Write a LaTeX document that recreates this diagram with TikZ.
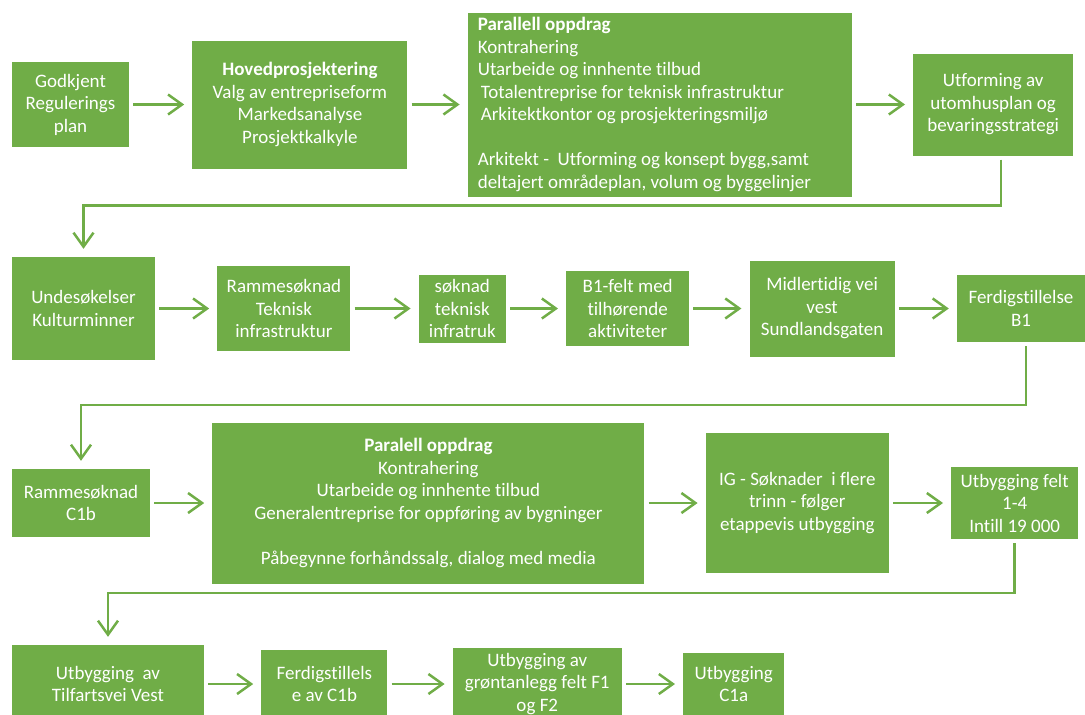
\documentclass[tikz,border=0pt]{standalone}
\usepackage{fontspec}
\setmainfont{Carlito}[Ligatures={NoCommon,NoRequired,NoContextual}]
\usetikzlibrary{positioning, arrows.meta}
\definecolor{stagegreen}{HTML}{70AD47}

\begin{document}
\begin{tikzpicture}[x=1pt, y=-1pt, node distance=61pt,
                    stage/.style={rectangle, fill=stagegreen, text=white, align=center, inner sep=1pt,
                                  font={\fontsize{19}{22.5}\selectfont}},
                    flow/.style={->, draw=stagegreen, line width=2.5pt, shorten <=4pt, shorten >=8pt},
                    >={Straight Barb[length=14pt, width=20pt]}]
  \useasboundingbox (0,0) rectangle (1085,715);
  \clip (0,0) rectangle (1085,715);
  % row 1
  \node[stage, minimum width=117pt, minimum height=85pt] (godkjent) at (70.5,104.5) {Godkjent\\Regulerings\\plan};
  \node[stage, right=63pt of godkjent, minimum width=215pt, minimum height=128pt] (hovedpro)
       {\textbf{Hovedprosjektering}\\Valg av entrepriseform\\Markedsanalyse\\Prosjektkalkyle};
  \node[stage, right=60pt of hovedpro, minimum height=184pt, text width=364pt, inner xsep=10pt, align=flush left] (parallell)
       {\textbf{Parallell oppdrag}\\Kontrahering\\Utarbeide og innhente tilbud\\
        \hspace*{3pt}Totalentreprise for teknisk infrastruktur\\
        \hspace*{3pt}Arkitektkontor og prosjekteringsmiljø\\[22.5pt]
        Arkitekt -\ \ Utforming og konsept bygg,samt\\deltajert områdeplan, volum og byggelinjer};
  \node[stage, right=of parallell, minimum width=160pt, minimum height=102pt] (utforming)
       {Utforming av\\utomhusplan og\\bevaringsstrategi};
  % row 2
  \node[stage, minimum width=143pt, minimum height=103pt] (undersok) at (83.5,308.5) {Undesøkelser\\Kulturminner};
  \node[stage, right=62pt of undersok, minimum width=133pt, minimum height=85pt] (rammeinfra) {Rammesøknad\\Teknisk\\infrastruktur};
  \node[stage, right=68pt of rammeinfra, minimum width=87pt, minimum height=68pt] (soknad) {søknad\\teknisk\\infratruk};
  \node[stage, right=60pt of soknad, minimum width=123pt, minimum height=75pt] (bfelt) {B1-felt med\\tilhørende\\aktiviteter};
  \node[stage, right=60pt of bfelt, minimum width=145pt, minimum height=96pt] (midlvei) {Midlertidig vei\\vest\\Sundlandsgaten};
  \node[stage, right=62pt of midlvei, minimum width=128pt, minimum height=67pt] (ferdigb) {Ferdigstillelse\\B1};
  % row 3
  \node[stage, minimum width=138pt, minimum height=68pt] (rammec) at (81,503) {Rammesøknad\\C1b};
  \node[stage, right=62pt of rammec, minimum width=432pt, minimum height=161pt] (paralell)
       {\textbf{Paralell oppdrag}\\Kontrahering\\Utarbeide og innhente tilbud\\
        Generalentreprise for oppføring av bygninger\\[22.5pt]Påbegynne forhåndssalg, dialog med media};
  \node[stage, right=of paralell, minimum width=183pt, minimum height=140pt] (igsok)
       {IG - Søknader\ \ i flere\\trinn - følger\\etappevis utbygging};
  \node[stage, right=62pt of igsok, minimum width=127pt, minimum height=72pt] (utbfelt) {Utbygging felt\\1-4\\Intill 19 000};
  % row 4
  \node[stage, minimum width=192pt, minimum height=78pt] (tilfart) at (108,684) {Utbygging\ \ av\\Tilfartsvei Vest};
  \node[stage, right=57pt of tilfart, minimum width=126pt, minimum height=68pt] (ferdigc) {Ferdigstillels\\e av C1b};
  \node[stage, right=65pt of ferdigc, minimum width=169pt, minimum height=72pt] (gront) {Utbygging av\\grøntanlegg felt F1\\og F2};
  \node[stage, right=of gront, minimum width=101pt, minimum height=62pt] (utbc) {Utbygging\\C1a};

  \draw[flow] (godkjent) -- (hovedpro);
  \draw[flow] (hovedpro) -- (parallell);
  \draw[flow] (parallell) -- (utforming);
  \draw[flow] ([xshift=8pt]utforming.south) -- ++(0,50) -| (undersok.north);

  \draw[flow] (undersok) -- (rammeinfra);
  \draw[flow] (rammeinfra) -- (soknad);
  \draw[flow] (soknad) -- (bfelt);
  \draw[flow] (bfelt) -- (midlvei);
  \draw[flow] (midlvei) -- (ferdigb);
  \draw[flow] ([xshift=5pt]ferdigb.south) -- ++(0,63) -| (rammec.north);

  \draw[flow] (rammec) -- (paralell);
  \draw[flow] (paralell) -- (igsok);
  \draw[flow] (igsok) -- (utbfelt);
  \draw[flow] (utbfelt.south) -- ++(0,54) -| (tilfart.north);

  \draw[flow] (tilfart) -- (ferdigc);
  \draw[flow] (ferdigc) -- (gront);
  \draw[flow] (gront) -- (utbc);
\end{tikzpicture}
\end{document}
